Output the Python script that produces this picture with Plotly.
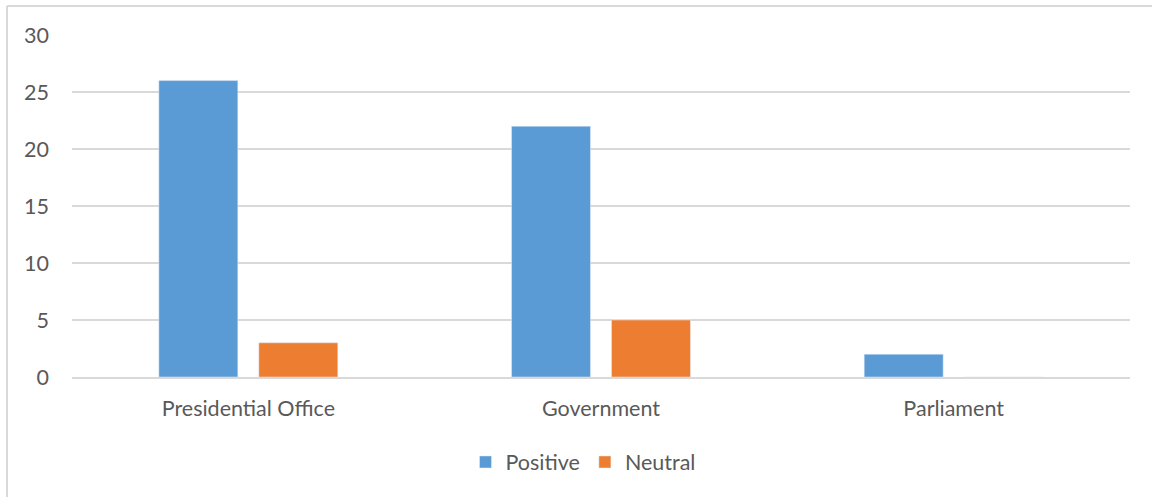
import plotly.graph_objects as go

categories = ["Presidential Office", "Government", "Parliament"]
positive = [26, 22, 2]
neutral = [3, 5, 0]
y_ticks = [0, 5, 10, 15, 20, 25, 30]

BLUE = "#5B9BD5"
ORANGE = "#ED7D31"
GRID = "#D9D9D9"
TEXT = "#595959"
FONT = "Lato"
FSIZE = 21.5

fig = go.Figure()
fig.add_trace(go.Bar(name="Positive", x=categories, y=positive, marker_color=BLUE))
fig.add_trace(go.Bar(name="Neutral", x=categories, y=neutral, marker_color=ORANGE))

W, H = 1152, 497
ml, mr, mt, mb = 72, 22, 35, 120
pw, ph = W - ml - mr, H - mt - mb

def px_x(px):
    return (px - ml) / pw

def px_y(py):
    return (H - mb - py) / ph

# chart frame (left and top edges)
fig.add_shape(type="line", xref="paper", yref="paper",
              x0=px_x(7), x1=px_x(7), y0=px_y(H + 5), y1=px_y(6),
              line=dict(color=GRID, width=2))
fig.add_shape(type="line", xref="paper", yref="paper",
              x0=px_x(7), x1=px_x(W + 5), y0=px_y(6), y1=px_y(6),
              line=dict(color=GRID, width=2))

fig.update_layout(
    width=W, height=H,
    margin=dict(l=ml, r=mr, t=mt, b=mb),
    paper_bgcolor="white", plot_bgcolor="white",
    barmode="group", bargap=0.433, bargroupgap=0.21,
    font=dict(family=FONT, size=FSIZE, color=TEXT),
    showlegend=True,
    legend=dict(orientation="h", x=px_x(583), xanchor="center",
                y=px_y(462), yanchor="middle",
                font=dict(family=FONT, size=FSIZE, color=TEXT),
                itemwidth=30, tracegroupgap=0),
    xaxis=dict(showgrid=False, showline=True, linecolor=GRID, linewidth=1.5,
               ticks="", ticklabelstandoff=11, fixedrange=True),
    yaxis=dict(range=[0, 30], tickvals=y_ticks, showgrid=True, gridcolor=GRID,
               gridwidth=1.5, zeroline=False, showline=False, ticks="",
               ticklabelstandoff=22, fixedrange=True),
)

fig.write_html("out.html")
